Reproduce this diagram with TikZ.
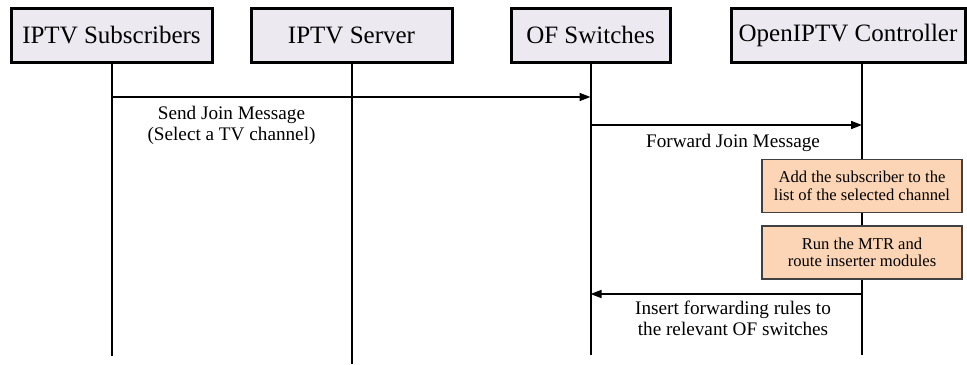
\documentclass[tikz,border=0pt]{standalone}
\usepackage{fontspec}
\setmainfont{Liberation Serif}
\usetikzlibrary{arrows.meta, positioning}

\definecolor{actorfill}{HTML}{ECE9F1}
\definecolor{taskfill}{HTML}{FBD5B5}

\begin{document}
\begin{tikzpicture}[x=0.5pt, y=-0.5pt, actor/.style={rectangle, draw, line width=1.5pt, fill=actorfill, minimum height=27pt, inner sep=0pt, font=\fontsize{12.5}{15}\selectfont}, task/.style={rectangle, draw=black!75, line width=.8pt, fill=taskfill, minimum width=100pt, minimum height=26.5pt, align=center, inner sep=0pt, font=\fontsize{8.3}{8.7}\selectfont}, lifeline/.style={line width=1pt}, arrow/.style={line width=.8pt, -{Triangle[length=5.5pt, width=4pt]}}, lbl/.style={align=center, anchor=north, inner sep=0pt, font=\fontsize{9.6}{10.2}\selectfont}]
\useasboundingbox (0,0) rectangle (967,364);
\node[actor, minimum width=100.5pt] (subs) at (111.5,35) {IPTV Subscribers};
\node[actor, minimum width=100.5pt] (server) at (351.5,35) {IPTV Server};
\node[actor, minimum width=79.5pt] (ofs) at (590.5,35) {OF Switches};
\node[actor, minimum width=117pt] (ctrl) at (848,35) {OpenIPTV Controller};
% lifelines
\coordinate (subsEnd) at (subs.south |- 0,356);
\coordinate (serverEnd) at (server.south |- 0,364);
\coordinate (ofsEnd) at (ofs.south |- 0,355);
\coordinate (ctrlTop) at (862,62);
\coordinate (ctrlEnd) at (862,355);
\draw[lifeline] (subs) -- (subsEnd);
\draw[lifeline] (server) -- (serverEnd);
\draw[lifeline] (ofs) -- (ofsEnd);
\draw[lifeline] (ctrlTop) -- (ctrlEnd);
% controller steps
\node[task] (addsub) at (862,186) {Add the subscriber to the\\list of the selected channel};
\node[task, below=6pt of addsub] (mtr) {Run the MTR and\\route inserter modules};
% messages
\coordinate (joinA) at (subs.south |- 0,97);
\coordinate (joinB) at (ofs.south |- 0,97);
\coordinate (fwdA) at (ofs.south |- 0,125);
\coordinate (fwdB) at (862,125);
\coordinate (ruleA) at (862,294);
\coordinate (ruleB) at (ofs.south |- 0,294);
\draw[arrow] (joinA) -- (joinB);
\draw[arrow] (fwdA) -- (fwdB);
\draw[arrow] (ruleA) -- (ruleB);
\node[lbl] (joinlbl) at (231.5,106) {Send Join Message\\(Select a TV channel)};
\node[lbl] (fwdlbl) at (733,134) {Forward Join Message};
\node[lbl] (rulelbl) at (733,301) {Insert forwarding rules to\\the relevant OF switches};
\end{tikzpicture}
\end{document}
